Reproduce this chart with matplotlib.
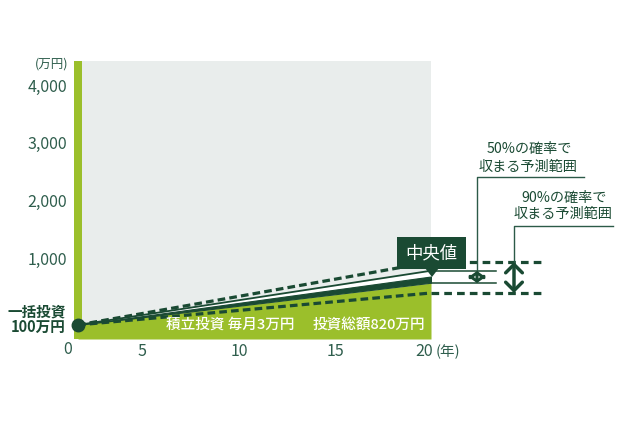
import matplotlib
matplotlib.use("Agg")
import matplotlib.pyplot as plt
from matplotlib.patches import Rectangle, Polygon

plt.rcParams['font.family'] = ['Noto Sans CJK JP', 'DejaVu Sans']

# ---- data (values read in the chart's own axis units, 万円) ----
years = [0, 5, 10, 15, 20]
upper90 = [-160, 112, 384, 657, 931]
upper50 = [-160, 75, 310, 545, 780]
median = [-160, 50, 260, 470, 680]
lower50 = [-160, 22, 205, 388, 572]
lower90 = [-160, -22, 116, 255, 394]
invest = [-160, 20, 200, 382, 565]
ytick_vals = [1000, 2000, 3000, 4000]
ytick_labels = ["1,000", "2,000", "3,000", "4,000"]
xtick_labels = ["5", "10", "15", "20"]

DARK = "#1a4a33"
LIME = "#9bbf2b"
GRAY = "#e9edec"
TICK = "#2f5e4d"

W, H = 639, 421
fig = plt.figure(figsize=(W / 100, H / 100), dpi=100)

# main axes (pixel box 74..431 x 61..339)
L, R, T, B = 74, 431, 61, 339
ax = fig.add_axes([L / W, (H - B) / H, (R - L) / W, (B - T) / H])
ax.set_facecolor(GRAY)
x0 = -0.227
ax.set_xlim(x0, 20)
ax.set_ylim(-404, 4417)
for s in ax.spines.values():
    s.set_visible(False)

# green principal area and left bar
ax.fill_between(years, invest, -404, color=LIME, lw=0, zorder=1)
ax.axvspan(x0, -x0, color=LIME, lw=0, zorder=1)

# projection lines
dash = (0, (2.4, 1.3))
ax.plot(years, lower90, color=DARK, lw=2.3, ls=dash, zorder=3)
ax.fill_between(years, median, upper50, color="white", lw=0, zorder=3)
ax.plot(years, upper50, color=DARK, lw=1.3, zorder=4)
ax.fill_between(years, lower50, median, color=DARK, lw=0.8, edgecolor=DARK, zorder=4)
ax.plot(years, upper90, color=DARK, lw=2.3, ls=dash, zorder=5)
ax.plot([years[0]], [median[0]], 'o', color=DARK, ms=9, zorder=6, clip_on=False)

# horizontal extensions to the right
ax.plot([20, 26.46], [upper90[-1]] * 2, color=DARK, lw=2.3, ls=(0, (2.4, 1.6)), clip_on=False, zorder=5)
ax.plot([20, 26.46], [lower90[-1]] * 2, color=DARK, lw=2.3, ls=(0, (2.4, 1.6)), clip_on=False, zorder=5)
ax.plot([20, 23.68], [upper50[-1]] * 2, color=DARK, lw=1.1, clip_on=False, zorder=5)
ax.plot([20, 23.68], [lower50[-1]] * 2, color=DARK, lw=1.1, clip_on=False, zorder=5)

ax.set_yticks(ytick_vals, ytick_labels)
ax.set_xticks([])
ax.tick_params(axis='y', length=0, pad=5, labelsize=11.5, labelcolor=TICK)

# overlay in pixel coordinates for annotations
ov = fig.add_axes([0, 0, 1, 1], zorder=10)
ov.set_xlim(0, W)
ov.set_ylim(H, 0)
ov.axis('off')

# x labels
xt_px = [142, 239, 335, 424]
for lab, px in zip(xtick_labels, xt_px):
    ov.text(px, 352, lab, ha='center', va='center', fontsize=11.5, color=TICK)
ov.text(448, 352, "(年)", ha='center', va='center', fontsize=10.5, color=TICK)
ov.text(67.5, 349, "0", ha='center', va='center', fontsize=11.5, color=TICK)
ov.text(52, 64, "(万円)", ha='center', va='center', fontsize=9, color=TICK)

# lump sum label
ov.text(66, 311, "一括投資", ha='right', va='center', fontsize=10.5, fontweight='bold', color=DARK)
ov.text(66, 327, "100万円", ha='right', va='center', fontsize=10.5, fontweight='bold', color=DARK)

# white labels on green
ov.text(230, 325, "積立投資 毎月3万円", ha='center', va='center', fontsize=10.5, fontweight='medium', color='white')
ov.text(368.5, 325, "投資総額820万円", ha='center', va='center', fontsize=10.5, fontweight='medium', color='white')

# median box
ov.add_patch(Rectangle((397, 237), 69, 32, color=DARK, lw=0))
ov.add_patch(Polygon([(425, 268), (439, 268), (432, 277)], closed=True, color=DARK, lw=0))
ov.text(431.5, 253, "中央値", ha='center', va='center', fontsize=12.5, color='white')

# arrows
ov.annotate('', xy=(477, 283), xytext=(477, 271),
            arrowprops=dict(arrowstyle='<->,head_width=0.5,head_length=0.35', lw=2.2, color=DARK,
                            shrinkA=0, shrinkB=0))
ov.annotate('', xy=(514, 293), xytext=(514, 262),
            arrowprops=dict(arrowstyle='<->,head_width=0.6,head_length=0.6', lw=2.5, color=DARK,
                            shrinkA=0, shrinkB=0))

# leader lines
LEAD = "#2c5a48"
ov.plot([477, 477, 584], [271, 177, 177], color=LEAD, lw=1)
ov.plot([514, 514, 613], [262, 226, 226], color=LEAD, lw=1)

# range captions
ov.text(529, 149, "50%の確率で", ha='center', va='center', fontsize=10.2, color=DARK)
ov.text(528, 167, "収まる予測範囲", ha='center', va='center', fontsize=10.2, color=DARK)
ov.text(564, 198, "90%の確率で", ha='center', va='center', fontsize=10.2, color=DARK)
ov.text(563, 214, "収まる予測範囲", ha='center', va='center', fontsize=10.2, color=DARK)

fig.savefig("out.png", dpi=100)
